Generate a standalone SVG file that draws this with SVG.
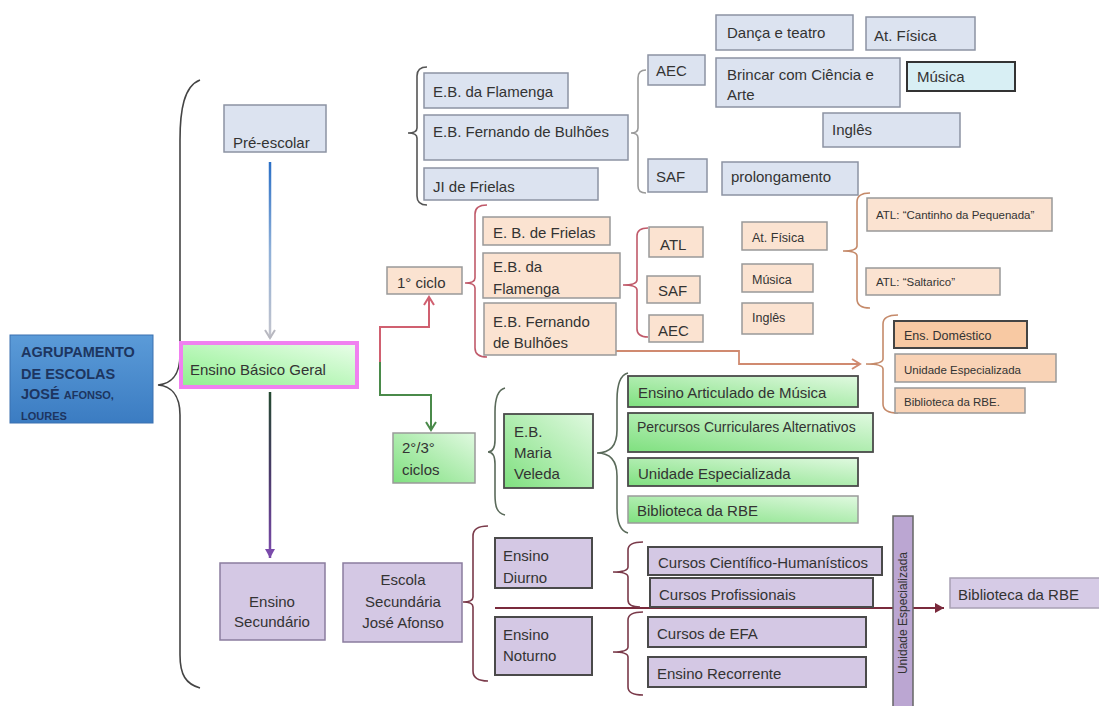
<svg xmlns="http://www.w3.org/2000/svg" width="1099" height="706" viewBox="0 0 1099 706">
<defs>
<style>
text{font-family:"Liberation Sans",Arial,sans-serif;font-size:15px;fill:#333}
.s{font-size:12.5px}
.xs{font-size:11.5px}
.c{text-anchor:middle}
.blue{fill:#dce3f0;stroke:#8c93a3;stroke-width:1.5}
.org{fill:#fbe3d1;stroke:#999;stroke-width:1.5}
.org2{fill:#f9d3b6;stroke:#999;stroke-width:1.5}
.grn{fill:url(#gg);stroke:#4a4a4a;stroke-width:1.8}
.grn2{fill:url(#gg);stroke:#9a9a9a;stroke-width:1.5}
.lav{fill:#d4c8e4;stroke:#8a7c9e;stroke-width:1.5}
.lavd{fill:#d4c8e4;stroke:#4a4a4a;stroke-width:2}
.br{fill:none;stroke-width:1.6}
</style>
<linearGradient id="gg" x1="0" y1="1" x2="1" y2="0">
<stop offset="0" stop-color="#7fe07f"/>
<stop offset="1" stop-color="#e0f9e0"/>
</linearGradient>
<linearGradient id="gebg" x1="0" y1="1" x2="1" y2="0">
<stop offset="0" stop-color="#8ef08e"/>
<stop offset="1" stop-color="#eafeea"/>
</linearGradient>
<linearGradient id="gblue" x1="0" y1="0" x2="0" y2="1">
<stop offset="0" stop-color="#5b9bd8"/>
<stop offset="1" stop-color="#3b7cc2"/>
</linearGradient>
<linearGradient id="gl1" x1="0" y1="162" x2="0" y2="338" gradientUnits="userSpaceOnUse">
<stop offset="0" stop-color="#2a6fc6"/>
<stop offset="0.5" stop-color="#8fb0d8"/>
<stop offset="1" stop-color="#c4c4cc"/>
</linearGradient>
<linearGradient id="gl2" x1="0" y1="392" x2="0" y2="556" gradientUnits="userSpaceOnUse">
<stop offset="0" stop-color="#244a30"/>
<stop offset="0.5" stop-color="#4a3a6a"/>
<stop offset="1" stop-color="#7a4aaa"/>
</linearGradient>
<marker id="agray" markerWidth="12" markerHeight="12" refX="10" refY="6" orient="auto" markerUnits="userSpaceOnUse">
<path d="M2,1 L10,6 L2,11" fill="none" stroke="#b8b8c0" stroke-width="2"/>
</marker>
<marker id="apurp" markerWidth="12" markerHeight="12" refX="10" refY="6" orient="auto" markerUnits="userSpaceOnUse">
<path d="M1,1 L10,6 L1,11 Z" fill="#7a4aaa"/>
</marker>
<marker id="apink" markerWidth="12" markerHeight="12" refX="10" refY="6" orient="auto" markerUnits="userSpaceOnUse">
<path d="M2,1 L10,6 L2,11" fill="none" stroke="#d06070" stroke-width="2"/>
</marker>
<marker id="agreen" markerWidth="12" markerHeight="12" refX="10" refY="6" orient="auto" markerUnits="userSpaceOnUse">
<path d="M2,1 L10,6 L2,11" fill="none" stroke="#4a8a4a" stroke-width="2"/>
</marker>
<marker id="aorg" markerWidth="12" markerHeight="12" refX="10" refY="6" orient="auto" markerUnits="userSpaceOnUse">
<path d="M2,1 L10,6 L2,11" fill="none" stroke="#d08a70" stroke-width="2"/>
</marker>
<marker id="amar" markerWidth="12" markerHeight="12" refX="10" refY="6" orient="auto" markerUnits="userSpaceOnUse">
<path d="M1,1 L10,6 L1,11 Z" fill="#7a2a3c"/>
</marker>
</defs>
<rect width="1099" height="706" fill="#ffffff"/>

<g id="connectors">
<!-- big left brace -->
<path class="br" stroke="#444" d="M200,80 C184,86 180,110 180,140 L180,355 C180,376 170,384 158,385 C170,386 180,394 180,415 L180,655 C180,675 186,684 200,688"/>
<!-- pre-escolar -> EBG -->
<line x1="270" y1="162" x2="270" y2="338" stroke="url(#gl1)" stroke-width="2.5" marker-end="url(#agray)"/>
<!-- EBG -> secundario -->
<line x1="270" y1="392" x2="270" y2="558" stroke="url(#gl2)" stroke-width="2.5" marker-end="url(#apurp)"/>
<!-- to 1 ciclo -->
<path d="M380,362 L380,327 L429,327 L429,297" fill="none" stroke="#d06070" stroke-width="2" marker-end="url(#apink)"/>
<!-- to 2/3 ciclos -->
<path d="M380,362 L380,395 L431,395 L431,430" fill="none" stroke="#4a8a4a" stroke-width="2" marker-end="url(#agreen)"/>
<!-- Bulhoes -> Ens. domestico group -->
<path d="M616,351 L739,351 L739,364 L860,364" fill="none" stroke="#d08a70" stroke-width="1.8" marker-end="url(#aorg)"/>
<!-- secondary horizontal arrow -->
<line x1="495" y1="608" x2="944" y2="608" stroke="#7a2a3c" stroke-width="2" marker-end="url(#amar)"/>

<!-- braces -->
<path class="br" stroke="#555" d="M427,67 Q417,67 417,76 L417,128 Q417,133 408,133 Q417,133 417,138 L417,196 Q417,205 427,205"/>
<path class="br" stroke="#9a9a9a" d="M646,70 Q638,70 638,78 L638,128 Q638,133 631,133 Q638,133 638,138 L638,186 Q638,193 646,193"/>
<path class="br" stroke="#c05a6a" d="M487,205 Q475,205 475,214 L475,278 Q475,283 465,283 Q475,283 475,288 L475,348 Q475,357 487,357"/>
<path class="br" stroke="#c05a6a" d="M648,228 Q637,228 637,236 L637,280 Q637,285 623,285 Q637,285 637,290 L637,329 Q637,337 648,337"/>
<path class="br" stroke="#c58a6a" d="M870,193 Q857,193 857,202 L857,246 Q857,251 843,251 Q857,251 857,256 L857,299 Q857,308 870,308"/>
<path class="br" stroke="#c58a6a" d="M898,315 Q883,315 883,324 L883,359 Q883,364 866,364 Q883,364 883,369 L883,404 Q883,413 898,413"/>
<path class="br" stroke="#5a6a5a" d="M505,388 C497,390 495,400 495,412 L495,440 C495,448 492,452 488,452 C492,452 495,456 495,464 L495,495 C495,507 497,513 505,515"/>
<path class="br" stroke="#5a6a5a" d="M628,373 C620,375 617,385 617,400 L617,430 C617,445 610,453 597,453 C610,453 617,461 617,476 L617,508 C617,523 620,531 628,533"/>
<path class="br" stroke="#7a3a4a" d="M488,526 Q473,526 473,536 L473,597 Q473,602 463,602 Q473,602 473,607 L473,671 Q473,681 488,681"/>
<path class="br" stroke="#7a3a4a" d="M643,542 Q628,542 628,550 L628,567 Q628,572 613,572 Q628,572 628,577 L628,600 Q628,607 640,607"/>
<path class="br" stroke="#7a3a4a" d="M643,612 Q628,612 628,620 L628,647 Q628,652 613,652 Q628,652 628,657 L628,687 Q628,695 643,695"/>
</g>

<g id="agrupamento">
<rect x="10" y="335" width="143" height="88" fill="url(#gblue)" stroke="#3a70b0" stroke-width="1"/>
<text x="21" y="357" style="fill:#1d3560;font-weight:bold;font-size:14.5px">AGRUPAMENTO</text>
<text x="21" y="379" style="fill:#1d3560;font-weight:bold;font-size:14.5px">DE ESCOLAS</text>
<text x="21" y="399" style="fill:#1d3560;font-weight:bold;font-size:14.5px">JOSÉ <tspan style="font-size:11px">AFONSO,</tspan></text>
<text x="21" y="420" style="fill:#1d3560;font-weight:bold;font-size:11px">LOURES</text>
</g>

<g id="pre-escolar"><rect class="blue" x="224" y="105" width="102" height="47"/><text x="233" y="148">Pré-escolar</text></g>
<g id="ensino-basico-geral"><rect x="181" y="343" width="176" height="44" fill="url(#gebg)" stroke="#f080f0" stroke-width="4"/><text x="190" y="375">Ensino Básico Geral</text></g>
<g id="ciclo1"><rect class="org" x="387" y="267" width="75" height="27"/><text x="397" y="288">1° ciclo</text></g>
<g id="ciclos23"><rect class="grn2" x="393" y="433" width="82" height="50"/><text x="402" y="453">2°/3°</text><text x="402" y="475">ciclos</text></g>
<g id="ensino-secundario"><rect class="lav" x="220" y="563" width="105" height="77"/><text class="c" x="272" y="607">Ensino</text><text class="c" x="272" y="627">Secundário</text></g>
<g id="escola-secundaria"><rect class="lav" x="343" y="563" width="119" height="79"/><text class="c" x="403" y="585">Escola</text><text class="c" x="403" y="607">Secundária</text><text class="c" x="403" y="628">José Afonso</text></g>

<g id="eb-flamenga-pre"><rect class="blue" x="424" y="73" width="144" height="35"/><text x="433" y="97">E.B. da Flamenga</text></g>
<g id="eb-fernando-pre"><rect class="blue" x="424" y="115" width="204" height="45"/><text x="433" y="137">E.B. Fernando de Bulhões</text></g>
<g id="ji-frielas"><rect class="blue" x="424" y="168" width="174" height="32"/><text x="433" y="192">JI de Frielas</text></g>
<g id="aec-pre"><rect class="blue" x="648" y="55" width="57" height="30"/><text x="656" y="76">AEC</text></g>
<g id="saf-pre"><rect class="blue" x="648" y="159" width="59" height="33"/><text x="656" y="182">SAF</text></g>
<g id="danca"><rect class="blue" x="716" y="15" width="137" height="35"/><text x="727" y="38">Dança e teatro</text></g>
<g id="atfisica-pre"><rect class="blue" x="866" y="17" width="109" height="33"/><text x="874" y="41">At. Física</text></g>
<g id="brincar"><rect class="blue" x="716" y="58" width="184" height="49"/><text x="727" y="80">Brincar com Ciência e</text><text x="727" y="100">Arte</text></g>
<g id="musica-pre"><rect x="907" y="62" width="108" height="29" fill="#d8eff4" stroke="#333" stroke-width="2"/><text x="917" y="82">Música</text></g>
<g id="ingles-pre"><rect class="blue" x="823" y="113" width="137" height="34"/><text x="832" y="135">Inglês</text></g>
<g id="prolongamento"><rect class="blue" x="722" y="162" width="136" height="33"/><text x="731" y="182">prolongamento</text></g>

<g id="eb-frielas"><rect class="org" x="483" y="217" width="127" height="28"/><text x="493" y="238">E. B. de Frielas</text></g>
<g id="eb-flamenga-1"><rect class="org" x="483" y="253" width="137" height="45"/><text x="493" y="272">E.B. da</text><text x="493" y="294">Flamenga</text></g>
<g id="eb-fernando-1"><rect class="org" x="484" y="303" width="132" height="52"/><text x="493" y="327">E.B. Fernando</text><text x="493" y="348">de Bulhões</text></g>
<g id="atl"><rect class="org" x="649" y="227" width="54" height="30"/><text x="660" y="250">ATL</text></g>
<g id="saf-1"><rect class="org" x="647" y="276" width="53" height="27"/><text x="658" y="296">SAF</text></g>
<g id="aec-1"><rect class="org" x="649" y="315" width="54" height="27"/><text x="658" y="336">AEC</text></g>
<g id="atfisica-1"><rect class="org" x="742" y="222" width="85" height="28"/><text class="s" x="752" y="242">At. Física</text></g>
<g id="musica-1"><rect class="org" x="742" y="264" width="71" height="28"/><text class="s" x="752" y="284">Música</text></g>
<g id="ingles-1"><rect class="org" x="742" y="303" width="71" height="31"/><text class="s" x="752" y="322">Inglês</text></g>
<g id="atl-cantinho"><rect class="org" x="867" y="198" width="185" height="33"/><text class="xs" x="876" y="219">ATL: “Cantinho da Pequenada”</text></g>
<g id="atl-saltarico"><rect class="org" x="866" y="268" width="134" height="27"/><text class="xs" x="876" y="286">ATL: “Saltarico”</text></g>
<g id="ens-domestico"><rect x="894" y="321" width="133" height="27" fill="#f8c9a3" stroke="#444" stroke-width="2"/><text class="s" x="904" y="340">Ens. Doméstico</text></g>
<g id="unidade-esp-1"><rect class="org2" x="895" y="354" width="161" height="28"/><text class="xs" x="904" y="374">Unidade Especializada</text></g>
<g id="biblioteca-1"><rect class="org2" x="895" y="388" width="130" height="25"/><text class="xs" x="904" y="406">Biblioteca da RBE.</text></g>

<g id="eb-maria-veleda"><rect class="grn" x="504" y="414" width="89" height="74"/><text x="514" y="437">E.B.</text><text x="514" y="458">Maria</text><text x="514" y="479">Veleda</text></g>
<g id="ensino-articulado"><rect class="grn" x="628" y="376" width="230" height="31"/><text x="638" y="398">Ensino Articulado de Música</text></g>
<g id="percursos"><rect class="grn" x="628" y="413" width="245" height="39"/><text x="637" y="432" style="font-size:14px">Percursos Curriculares Alternativos</text></g>
<g id="unidade-esp-2"><rect class="grn" x="628" y="458" width="230" height="28"/><text x="638" y="479">Unidade Especializada</text></g>
<g id="biblioteca-2"><rect class="grn2" x="628" y="496" width="230" height="27"/><text x="637" y="516">Biblioteca da RBE</text></g>

<g id="ensino-diurno"><rect class="lavd" x="495" y="538" width="97" height="50"/><text x="503" y="561">Ensino</text><text x="503" y="583">Diurno</text></g>
<g id="ensino-noturno"><rect class="lavd" x="495" y="617" width="97" height="58"/><text x="503" y="640">Ensino</text><text x="503" y="661">Noturno</text></g>
<g id="cursos-ch"><rect class="lavd" x="648" y="547" width="234" height="28"/><text x="658" y="568">Cursos Científico-Humanísticos</text></g>
<g id="cursos-prof"><rect class="lavd" x="650" y="578" width="223" height="29"/><text x="659" y="600">Cursos Profissionais</text></g>
<g id="cursos-efa"><rect class="lavd" x="648" y="617" width="218" height="30"/><text x="657" y="639">Cursos de EFA</text></g>
<g id="ensino-recorrente"><rect class="lavd" x="648" y="657" width="218" height="30"/><text x="657" y="679">Ensino Recorrente</text></g>
<g id="unidade-esp-3"><rect x="893" y="516" width="20" height="192" fill="#bba6d2" stroke="#666" stroke-width="1.5"/><text class="c" x="0" y="0" transform="translate(907,613) rotate(-90)" style="font-size:12px">Unidade Especializada</text></g>
<g id="biblioteca-3"><rect x="950" y="578" width="152" height="30" fill="#d6cbe6" stroke="#a8a0b4" stroke-width="1.5"/><text x="958" y="600">Biblioteca da RBE</text></g>
</svg>
